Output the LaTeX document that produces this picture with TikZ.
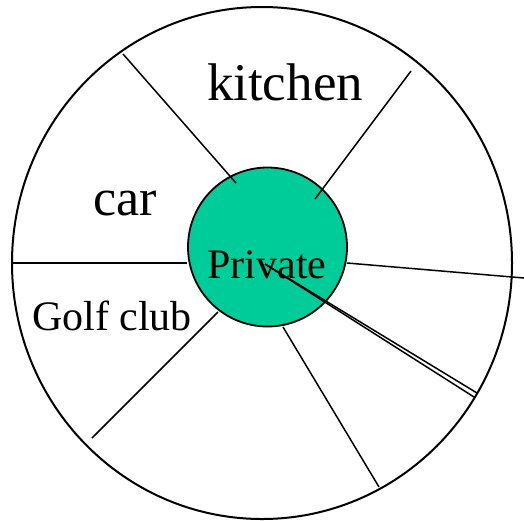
\documentclass[tikz,border=0pt]{standalone}
\usepackage{fontspec}
\setmainfont{Liberation Serif}
\usepackage{tikz}
\usetikzlibrary{positioning,calc}
\usepackage{xcolor}
\definecolor{privgreen}{RGB}{0,204,153}

\begin{document}
\begin{tikzpicture}[x=1pt,y=-1pt,
    ring/.style={draw=black, line width=2pt},
    spoke/.style={draw=black, line width=1.5pt},
    label/.style={anchor=base, inner sep=0pt}]
                    \useasboundingbox (0,0) rectangle (524,520);
                    % outer ring
                    \draw[ring] (262,263) ellipse [x radius=250, y radius=256];
                    % private core
                    \node[circle, fill=privgreen, draw=black, line width=1.8pt,
                          minimum size=159pt, inner sep=0pt] (core) at (267.5,247) {};
                    % spokes
                    \draw[spoke] (123,54) -- (236,183);
                    \draw[spoke] (411,71) -- (315,199);
                    \draw[spoke] (12,263) -- (187,263);
                    \draw[spoke] (347,263) -- (524,278);
                    \draw[spoke] (92,438) -- (218,312);
                    \draw[spoke] (283,327) -- (379,487);
                    \draw[spoke] (265,264) -- (477,393);
                    \draw[spoke] (265,264) -- (474,397);
                    % labels
                    \node[label, font=\fontsize{53}{60}\selectfont] (kitchen) at (285,100) {kitchen};
                    \node[label, font=\fontsize{52}{60}\selectfont] (car) at (125,215) {car};
                    \node[label, font=\fontsize{42}{50}\selectfont] (golf) at (112,330) {Golf club};
                    \node[label, font=\fontsize{42}{50}\selectfont] (private) at (267,278) {Private};
                \end{tikzpicture}
\end{document}
